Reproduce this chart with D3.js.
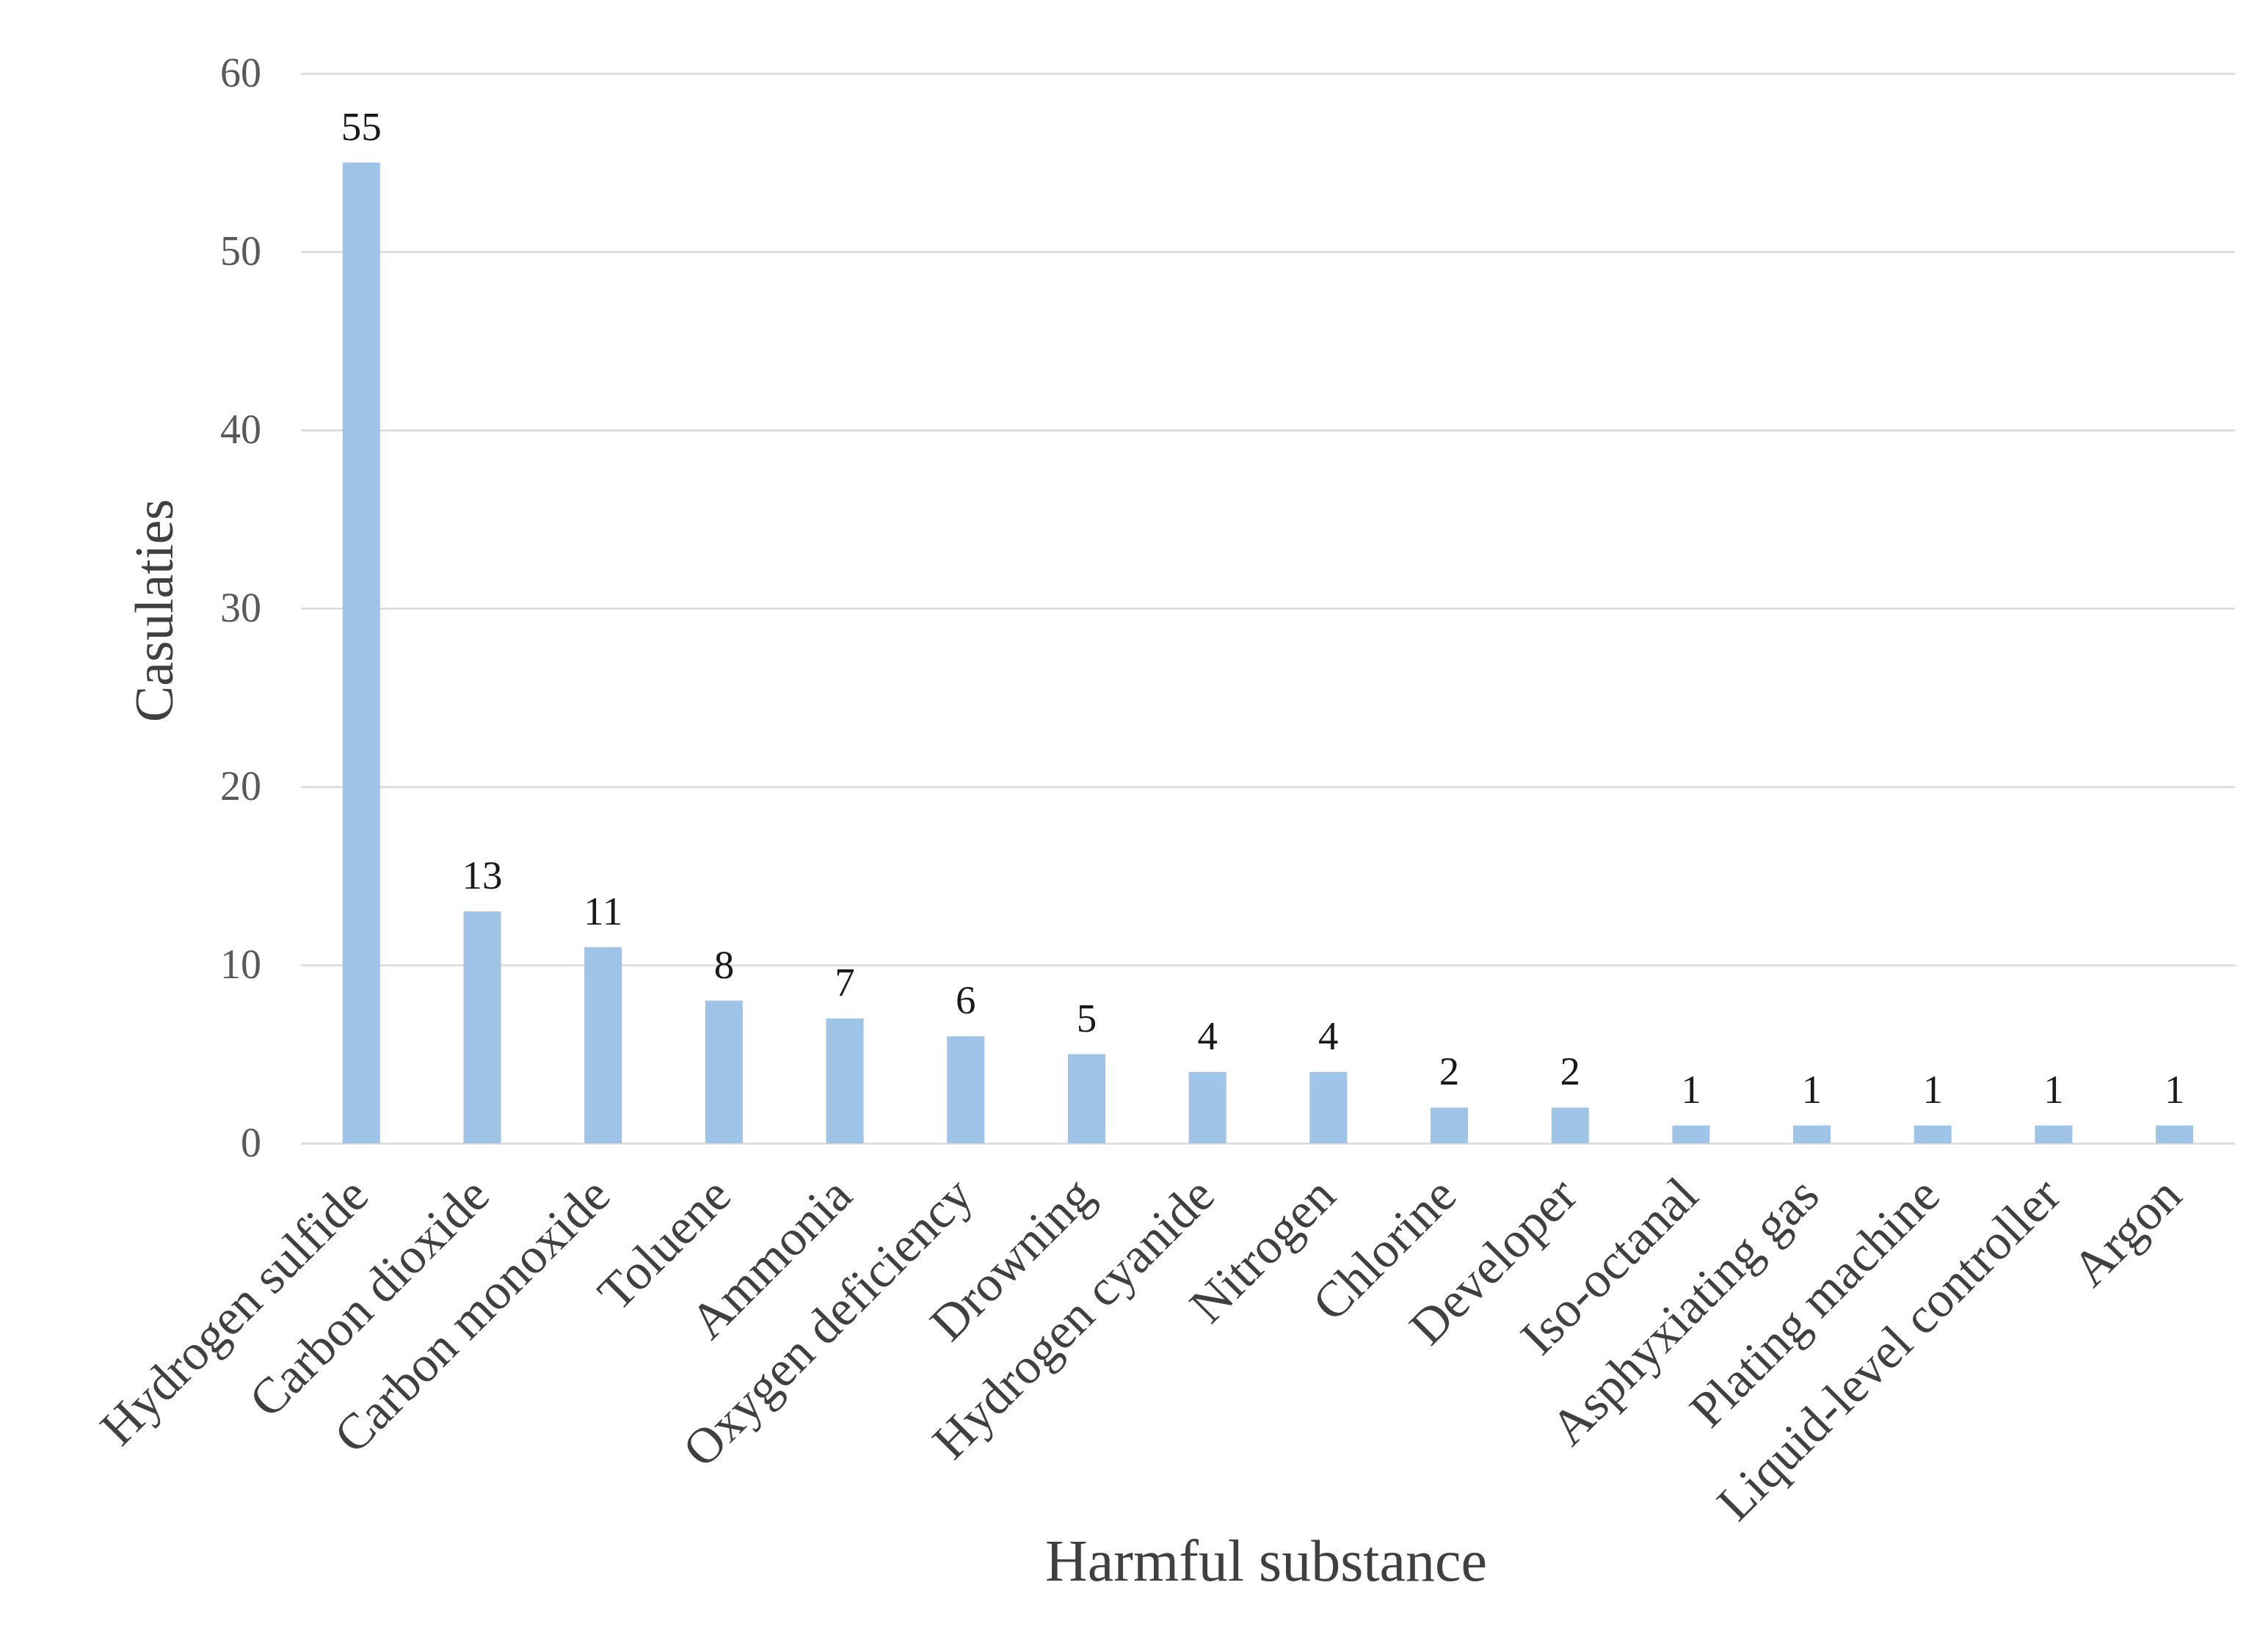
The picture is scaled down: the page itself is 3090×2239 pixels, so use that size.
<!DOCTYPE html>
<html>
<head>
<meta charset="utf-8">
<script src="https://cdn.jsdelivr.net/npm/d3@7"></script>
<style>
  body { margin: 0; background: #fff; }
  text { font-family: "Liberation Serif", "Times New Roman", serif; }
</style>
</head>
<body>
<div id="chart"></div>
<script>
// data
var substances = ["Hydrogen sulfide", "Carbon dioxide", "Carbon monoxide", "Toluene",
  "Ammonia", "Oxygen deficiency", "Drowning", "Hydrogen cyanide", "Nitrogen",
  "Chlorine", "Developer", "Iso-octanal", "Asphyxiating gas", "Plating machine",
  "Liquid-level controller", "Argon"];
var casualties = [55, 13, 11, 8, 7, 6, 5, 4, 4, 2, 2, 1, 1, 1, 1, 1];
var yTicks = [0, 10, 20, 30, 40, 50, 60];

var W = 3090, H = 2239;
var plotLeft = 410, plotRight = 3045, plotTop = 100, plotBottom = 1558;

var svg = d3.select("#chart").append("svg")
  .attr("width", W).attr("height", H);

var x = d3.scaleBand()
  .domain(substances)
  .range([plotLeft, plotRight])
  .paddingInner(0.69)
  .paddingOuter(0.345);

var y = d3.scaleLinear()
  .domain([0, 60])
  .range([plotBottom, plotTop]);

// y axis with gridlines
var yAxis = svg.append("g")
  .attr("transform", "translate(" + plotLeft + ",0)")
  .call(d3.axisLeft(y).tickValues(yTicks).tickSize(-(plotRight - plotLeft)).tickPadding(54));
yAxis.select(".domain").remove();
yAxis.selectAll(".tick line").attr("stroke", "#d9d9d9").attr("stroke-width", 2.5);
yAxis.selectAll(".tick text")
  .attr("fill", "#595959")
  .style("font-size", "56px")
  .style("font-family", "Liberation Serif, serif");

// bars
svg.selectAll("rect.bar")
  .data(casualties)
  .enter()
  .append("rect")
  .attr("class", "bar")
  .attr("x", function(d, i) { return x(substances[i]); })
  .attr("y", function(d) { return y(d); })
  .attr("width", x.bandwidth())
  .attr("height", function(d) { return y(0) - y(d); })
  .attr("fill", "#9fc4e7");

// value labels
svg.selectAll("text.val")
  .data(casualties)
  .enter()
  .append("text")
  .attr("class", "val")
  .attr("x", function(d, i) { return x(substances[i]) + x.bandwidth() / 2; })
  .attr("y", function(d) { return y(d) - 31; })
  .attr("text-anchor", "middle")
  .attr("fill", "#1a1a1a")
  .style("font-size", "55px")
  .text(function(d) { return d; });

// category labels, rotated
svg.selectAll("text.cat")
  .data(substances)
  .enter()
  .append("text")
  .attr("class", "cat")
  .attr("transform", function(d) {
    var cx = x(d) + x.bandwidth() / 2;
    return "translate(" + (cx - 4) + "," + (plotBottom + 58) + ") rotate(-45)";
  })
  .attr("text-anchor", "end")
  .attr("dy", "0.35em")
  .attr("fill", "#404040")
  .style("font-size", "69px")
  .text(function(d) { return d; });

// axis titles
svg.append("text")
  .attr("transform", "translate(235,832) rotate(-90)")
  .attr("text-anchor", "middle")
  .attr("fill", "#404040")
  .style("font-size", "74px")
  .text("Casulaties");

svg.append("text")
  .attr("x", 1725)
  .attr("y", 2154)
  .attr("text-anchor", "middle")
  .attr("fill", "#404040")
  .style("font-size", "80px")
  .text("Harmful substance");
</script>
</body>
</html>
